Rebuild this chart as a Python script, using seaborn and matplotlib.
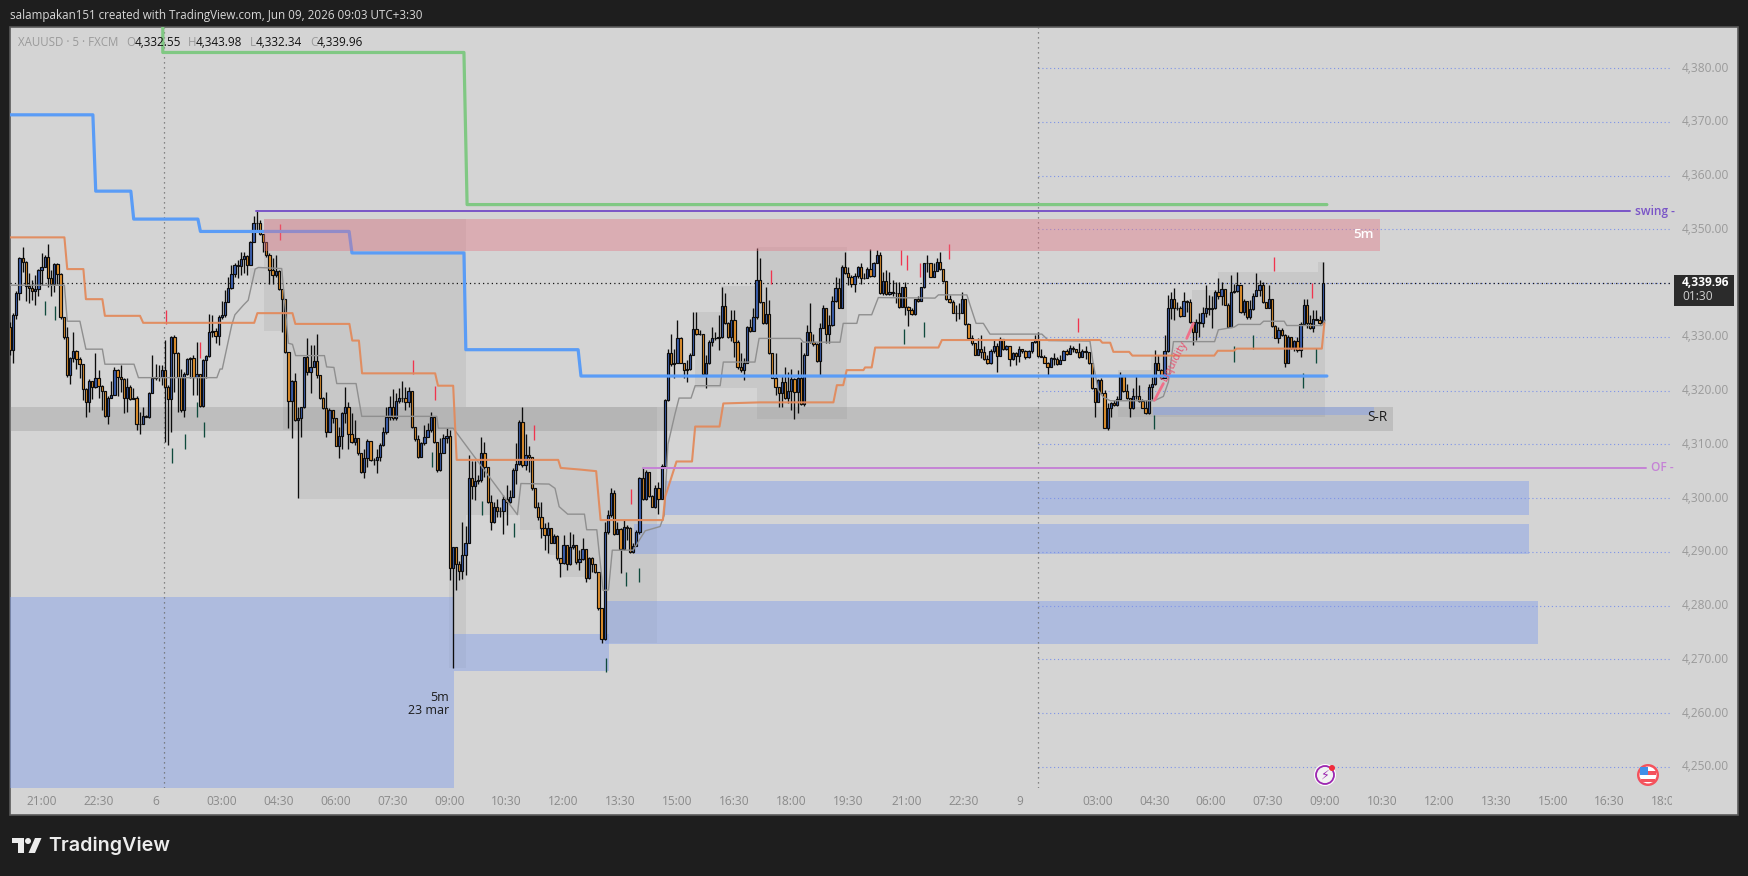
import matplotlib
matplotlib.use("Agg")
import matplotlib.pyplot as plt
from matplotlib.patches import Rectangle, Circle, Polygon
from matplotlib.transforms import Bbox, IdentityTransform, TransformedBbox, ScaledTranslation
import numpy as np
import seaborn as sns

first_open = 4331.9
closes = [
4327.5,4334.1,4338.1,4344.6,4344.0,4339.5,4339.1,4338.5,4338.9,4342.4,
4343.0,4344.9,4341.0,4339.9,4343.5,4341.6,4333.7,4329.9,4322.9,4326.1,
4327.4,4325.9,4324.9,4320.2,4317.8,4321.8,4320.6,4322.4,4320.8,4319.9,
4315.3,4318.7,4319.2,4323.8,4322.6,4322.1,4318.7,4320.6,4318.4,4318.7,
4313.7,4313.7,4315.3,4315.1,4319.5,4322.3,4322.6,4322.6,4323.8,4320.7,
4318.4,4330.0,4326.9,4322.5,4316.4,4323.0,4325.9,4326.1,4322.5,4323.0,
4317.1,4325.6,4326.4,4330.8,4331.0,4330.2,4333.7,4334.1,4336.4,4339.0,
4341.6,4343.4,4343.1,4344.4,4345.1,4343.4,4347.7,4351.1,4351.2,4349.1,
4347.6,4345.2,4342.5,4341.5,4342.2,4338.9,4337.0,4327.1,4318.1,4321.8,
4314.6,4314.8,4316.9,4326.2,4323.4,4324.4,4325.5,4322.8,4318.7,4316.7,
4312.2,4316.3,4314.8,4309.7,4311.6,4315.8,4317.0,4311.9,4310.5,4311.1,
4308.3,4304.8,4307.4,4310.6,4307.0,4307.0,4307.7,4309.9,4312.2,4315.0,
4316.9,4314.8,4318.1,4318.6,4318.6,4317.9,4319.9,4313.3,4310.9,4307.6,
4310.2,4311.4,4312.7,4315.1,4310.4,4305.2,4308.3,4311.1,4311.6,4286.9,
4290.8,4287.8,4286.5,4289.4,4291.7,4303.7,4302.3,4303.2,4303.3,4308.3,
4305.7,4299.2,4295.5,4298.3,4297.5,4297.5,4299.9,4299.2,4300.2,4305.2,
4306.3,4314.1,4306.1,4308.1,4307.7,4301.8,4298.3,4296.5,4294.4,4293.1,
4294.4,4291.7,4292.9,4288.8,4288.0,4291.3,4287.7,4290.9,4291.3,4288.1,
4288.6,4290.6,4285.2,4288.8,4287.8,4286.3,4279.5,4273.7,4293.6,4296.8,
4300.9,4293.4,4294.2,4290.6,4294.7,4294.4,4290.0,4291.1,4293.6,4303.7,
4299.8,4304.8,4300.4,4298.4,4301.8,4299.9,4306.0,4318.2,4326.9,4324.9,
4325.2,4329.8,4325.2,4323.9,4324.1,4326.7,4331.4,4330.5,4330.6,4323.0,
4325.1,4329.1,4329.7,4329.7,4329.9,4335.7,4332.5,4330.0,4333.1,4329.1,
4324.3,4323.8,4325.2,4331.8,4331.1,4333.6,4340.6,4336.4,4332.5,4334.2,
4326.9,4322.4,4320.6,4319.5,4321.5,4318.7,4320.0,4322.1,4319.8,4322.4,
4317.5,4326.6,4330.8,4329.1,4328.6,4325.5,4331.6,4335.3,4330.5,4332.2,
4336.7,4339.1,4335.4,4342.9,4341.8,4341.2,4339.8,4341.4,4343.0,4341.0,
4341.0,4342.6,4341.3,4343.8,4345.2,4338.1,4340.4,4338.0,4338.4,4338.2,
4338.2,4335.6,4339.2,4335.6,4334.9,4334.2,4337.0,4336.7,4339.2,4343.7,
4343.7,4341.2,4342.3,4344.0,4342.7,4340.4,4337.0,4336.5,4334.5,4334.5,
4334.5,4337.0,4332.3,4329.7,4328.8,4326.7,4327.7,4327.2,4325.8,4325.1,
4327.3,4328.2,4326.5,4329.6,4327.7,4328.2,4325.8,4326.9,4326.4,4327.7,
4327.3,4326.2,4327.3,4329.0,4329.4,4326.4,4326.3,4325.2,4324.4,4326.0,
4325.8,4324.9,4325.7,4327.4,4326.8,4328.0,4327.7,4327.2,4326.3,4327.3,
4327.2,4325.1,4320.4,4317.9,4322.0,4319.5,4313.1,4316.7,4317.7,4317.3,
4318.4,4322.7,4320.0,4318.7,4316.7,4318.9,4318.9,4318.1,4316.8,4315.8,
4320.7,4321.2,4325.2,4323.9,4322.3,4327.3,4335.3,4337.1,4335.3,4335.3,
4333.9,4336.7,4336.5,4332.7,4330.9,4332.8,4332.5,4334.4,4335.3,4335.1,
4335.3,4338.4,4337.5,4338.9,4336.0,4331.9,4338.3,4338.6,4339.6,4334.7,
4336.7,4333.6,4335.1,4337.6,4338.7,4339.6,4336.4,4335.4,4337.1,4332.0,
4329.8,4331.3,4330.3,4325.2,4329.9,4328.0,4329.2,4327.5,4332.4,4336.0,
4332.5,4331.6,4333.4,4333.2,4332.55,4339.96]
highs = [
4332.8,4334.4,4338.5,4344.9,4346.8,4344.1,4341.8,4340.6,4341.5,4342.7,
4345.5,4345.2,4347.2,4342.4,4343.7,4343.7,4341.8,4333.7,4331.8,4326.3,
4330.9,4327.5,4326.3,4325.0,4320.4,4322.1,4321.8,4326.9,4323.8,4321.0,
4320.0,4318.9,4321.7,4324.4,4324.1,4324.8,4322.3,4322.3,4321.0,4320.4,
4318.9,4316.1,4317.0,4315.4,4319.8,4326.6,4325.0,4324.8,4324.8,4329.4,
4321.0,4330.2,4330.3,4327.2,4324.1,4323.5,4326.0,4326.3,4326.6,4329.1,
4323.0,4325.8,4326.6,4334.2,4334.1,4331.6,4334.1,4336.7,4338.7,4341.2,
4343.4,4343.7,4344.3,4345.8,4345.8,4345.2,4347.9,4352.4,4353.6,4351.7,
4349.1,4347.6,4345.5,4344.6,4345.2,4342.4,4338.9,4337.0,4327.1,4321.9,
4323.2,4317.0,4317.0,4326.3,4329.7,4328.5,4328.5,4330.6,4322.8,4318.8,
4319.8,4316.7,4316.4,4314.8,4313.3,4316.1,4320.7,4317.9,4315.8,4314.5,
4311.1,4308.3,4309.2,4310.9,4310.6,4307.4,4309.2,4310.2,4313.3,4317.0,
4318.9,4320.2,4319.5,4320.4,4321.8,4320.7,4320.7,4319.9,4313.3,4311.7,
4310.5,4313.6,4313.9,4316.0,4315.1,4310.4,4311.2,4312.0,4313.0,4312.7,
4290.9,4290.9,4288.2,4295.6,4294.8,4308.0,4306.8,4306.8,4304.3,4311.4,
4310.5,4305.7,4300.6,4299.3,4299.9,4298.4,4300.6,4302.4,4301.5,4305.5,
4310.2,4314.5,4316.9,4312.0,4309.6,4307.7,4301.8,4299.3,4299.3,4295.3,
4295.6,4294.4,4293.4,4293.1,4288.8,4293.1,4291.3,4293.7,4293.4,4291.3,
4290.3,4292.5,4290.6,4289.1,4289.1,4287.8,4286.3,4279.5,4295.6,4297.8,
4301.8,4301.5,4295.6,4294.4,4295.9,4295.0,4294.7,4291.6,4294.0,4304.0,
4305.8,4305.2,4304.9,4300.6,4302.4,4303.0,4306.4,4318.5,4327.8,4330.6,
4327.8,4333.1,4330.0,4325.2,4325.7,4326.9,4334.7,4334.7,4331.3,4330.6,
4326.6,4329.4,4331.8,4330.9,4334.0,4339.3,4338.1,4332.8,4334.9,4335.0,
4329.4,4326.9,4326.0,4332.0,4333.4,4335.3,4346.6,4344.6,4336.4,4339.3,
4336.8,4326.9,4326.9,4320.6,4322.9,4324.4,4323.5,4324.1,4322.4,4323.8,
4329.1,4326.9,4332.2,4336.2,4330.6,4328.8,4332.5,4335.9,4335.3,4334.0,
4337.5,4341.2,4340.9,4343.3,4345.8,4343.0,4341.5,4341.8,4343.2,4343.7,
4341.8,4343.0,4346.4,4344.0,4346.1,4345.8,4342.1,4342.4,4342.1,4340.6,
4340.2,4340.2,4339.3,4340.2,4335.7,4335.3,4337.1,4337.5,4339.3,4343.8,
4345.2,4343.8,4343.7,4344.6,4345.8,4342.7,4340.4,4337.8,4336.8,4335.9,
4336.2,4338.4,4337.1,4332.5,4330.3,4328.8,4329.7,4330.3,4328.2,4326.6,
4327.8,4329.4,4328.8,4330.0,4329.6,4328.5,4328.2,4327.2,4327.2,4328.2,
4327.8,4327.5,4327.5,4329.1,4330.3,4330.8,4327.8,4326.6,4325.4,4326.3,
4326.9,4326.3,4326.6,4327.5,4327.8,4328.5,4328.2,4327.8,4328.8,4327.7,
4328.3,4327.2,4325.1,4320.4,4322.1,4322.3,4320.1,4317.6,4317.9,4318.2,
4318.9,4323.5,4322.9,4321.3,4318.7,4320.4,4322.9,4321.0,4318.4,4318.2,
4321.2,4322.6,4327.5,4326.6,4324.1,4330.3,4337.8,4338.4,4339.0,4336.5,
4335.7,4338.4,4336.8,4337.1,4332.7,4333.4,4334.4,4335.6,4339.6,4337.8,
4337.5,4338.7,4340.9,4340.2,4338.9,4336.2,4341.5,4339.9,4342.1,4339.6,
4337.1,4336.7,4336.8,4338.1,4341.8,4340.6,4340.2,4336.5,4339.6,4337.1,
4332.2,4331.8,4331.6,4330.5,4330.3,4330.0,4329.4,4330.0,4332.8,4337.0,
4337.1,4334.0,4335.0,4335.0,4333.9,4343.98]
lows = [
4326.6,4325.1,4333.4,4336.8,4342.1,4336.7,4336.2,4336.8,4335.9,4337.5,
4339.6,4343.0,4339.3,4337.6,4338.4,4339.9,4333.4,4329.6,4322.6,4321.3,
4325.4,4324.0,4322.3,4318.2,4315.1,4316.1,4318.4,4320.5,4318.6,4316.4,
4315.1,4313.8,4318.6,4319.2,4318.9,4319.8,4315.8,4316.1,4318.2,4318.4,
4312.7,4311.9,4313.7,4315.0,4314.8,4319.5,4322.0,4321.8,4321.0,4310.5,
4309.9,4312.3,4319.8,4316.1,4316.1,4315.0,4322.9,4322.3,4319.2,4319.2,
4316.9,4317.0,4322.3,4326.3,4330.0,4328.8,4328.5,4333.4,4333.7,4336.4,
4338.9,4341.2,4340.9,4341.5,4341.8,4341.5,4343.4,4347.7,4349.5,4348.9,
4345.8,4344.9,4339.9,4339.8,4341.2,4338.7,4330.9,4327.0,4313.0,4311.2,
4314.4,4300.0,4311.4,4316.7,4322.9,4319.5,4324.4,4322.3,4318.5,4316.5,
4311.4,4312.3,4313.9,4309.6,4307.4,4309.2,4313.9,4309.2,4310.2,4309.9,
4308.0,4304.6,4303.7,4305.8,4306.8,4306.2,4304.6,4306.8,4309.6,4312.0,
4314.5,4314.5,4314.6,4317.7,4317.9,4316.4,4317.0,4313.0,4310.7,4307.4,
4307.6,4309.9,4311.4,4312.3,4310.2,4304.9,4305.0,4309.2,4310.2,4284.7,
4268.3,4282.9,4284.7,4285.0,4285.7,4291.6,4299.9,4299.6,4302.7,4303.0,
4304.0,4299.0,4294.0,4295.3,4296.5,4296.5,4293.4,4295.0,4299.0,4300.2,
4302.7,4306.1,4305.8,4305.2,4304.9,4301.5,4298.1,4295.9,4292.5,4290.3,
4289.7,4291.6,4291.6,4288.5,4285.4,4287.8,4286.6,4287.5,4290.6,4287.8,
4286.6,4288.5,4284.4,4285.0,4286.3,4286.0,4279.2,4273.1,4273.6,4293.4,
4296.5,4293.1,4293.3,4286.0,4290.3,4292.2,4289.7,4289.7,4291.1,4293.4,
4299.6,4299.6,4300.2,4298.3,4298.1,4297.1,4299.8,4306.0,4318.1,4324.6,
4322.3,4325.2,4325.1,4322.4,4321.5,4323.9,4326.6,4330.3,4330.3,4322.9,
4320.4,4324.9,4328.2,4329.4,4327.5,4329.7,4332.4,4329.7,4329.3,4326.2,
4324.1,4323.5,4322.0,4325.2,4330.9,4331.1,4333.4,4336.2,4332.4,4332.4,
4326.8,4322.3,4319.2,4317.0,4317.0,4318.5,4317.6,4316.4,4314.7,4315.8,
4317.3,4317.2,4326.6,4328.9,4328.3,4325.4,4322.7,4331.6,4328.9,4328.8,
4332.0,4336.5,4335.3,4335.4,4341.6,4339.6,4339.3,4338.4,4340.9,4339.9,
4340.8,4340.9,4341.1,4341.2,4343.7,4338.0,4337.8,4337.8,4337.8,4337.5,
4336.2,4335.3,4335.5,4334.0,4332.0,4334.0,4334.0,4336.5,4336.7,4339.0,
4342.1,4341.1,4341.2,4342.3,4342.4,4340.2,4336.8,4336.3,4334.4,4333.0,
4333.4,4334.4,4332.2,4329.6,4328.5,4326.6,4326.6,4326.0,4325.7,4324.9,
4324.9,4326.9,4323.5,4326.4,4327.5,4327.5,4324.6,4325.6,4324.7,4325.4,
4327.0,4325.8,4326.0,4327.0,4328.8,4326.2,4326.2,4325.1,4322.8,4324.4,
4324.7,4324.8,4324.9,4325.7,4326.6,4326.9,4327.2,4327.0,4326.0,4326.2,
4325.8,4324.9,4320.3,4315.1,4317.9,4319.3,4313.0,4312.7,4315.1,4317.1,
4317.1,4318.2,4319.8,4318.5,4315.1,4316.5,4318.5,4317.9,4316.7,4315.6,
4315.6,4318.4,4321.0,4323.8,4322.1,4322.3,4327.2,4333.4,4333.1,4335.0,
4333.7,4333.9,4334.7,4332.5,4328.5,4329.4,4330.0,4331.9,4333.7,4334.0,
4331.6,4335.1,4337.1,4335.9,4335.9,4331.8,4331.8,4338.2,4338.4,4334.5,
4334.0,4333.4,4333.4,4335.0,4337.5,4337.5,4336.2,4335.3,4335.3,4331.9,
4329.7,4328.8,4330.1,4324.4,4325.2,4327.8,4327.3,4327.2,4326.2,4332.2,
4331.6,4331.4,4330.9,4333.1,4332.3,4332.34]

tick_idx = [10.1,28,46,67,85,103,121,139,157,175,193,211,229,247,265,283.6,301.6,319.3,343.7,361.7,379.7,397.7,415.7,433.7,451.7,469.7,487.7,505.7,523.7]
tick_labels = ["21:00","22:30","6","03:00","04:30","06:00","07:30","09:00","10:30","12:00","13:30","15:00","16:30","18:00","19:30","21:00","22:30","9","03:00","04:30","06:00","07:30","09:00","10:30","12:00","13:30","15:00","16:30","18:00"]
price_ticks = [4250,4260,4270,4280,4290,4300,4310,4320,4330,4340,4350,4360,4370,4380]

green_x = [48.3,48.3,143.5,144.5,416.3]
green_y = [4387.6,4382.9,4382.9,4354.6,4354.6]
blue_x = [0,26.2,27.1,38.2,39.1,59.4,60.2,107.2,108.1,143.5,144.1,179.6,180.5,416.3]
blue_y = [4371.3,4371.3,4357.1,4357.1,4351.9,4351.9,4349.6,4349.6,4345.6,4345.6,4327.6,4327.6,4322.7,4322.7]
orange_x = [0,17.2,18.1,23.2,24.0,29.2,30.0,41.1,42.1,77.2,78.2,89.3,90.2,107.3,108.2,110.3,111.3,134.4,135.3,140.1,141.2,173.3,174.1,180.2,185.3,186.7,206.4,207.1,210.7,215.6,216.6,224.3,225.5,237.1,260.3,261.4,263.4,264.5,269.8,270.3,272.4,273.5,293.5,294.6,344.6,345.3,347.8,348.8,353.8,354.8,380.7,381.8,386.8,387.8,414.7,415.5]
orange_y = [4348.5,4348.5,4342.6,4342.6,4337.0,4337.0,4333.9,4333.9,4332.6,4332.6,4334.4,4334.4,4332.4,4332.4,4329.3,4329.3,4323.2,4323.2,4320.9,4320.9,4307.1,4307.1,4305.6,4305.3,4305.0,4295.9,4295.9,4300.2,4306.8,4306.8,4313.3,4313.3,4317.6,4317.8,4317.8,4321.0,4321.0,4323.8,4323.8,4324.3,4324.3,4328.0,4328.0,4329.4,4329.4,4328.9,4328.9,4327.2,4327.2,4326.5,4326.5,4327.4,4327.4,4327.8,4327.8,4332.5]
gray_x = [0,17.2,18.1,22.1,24.0,29.2,30.0,39.2,40.6,65.4,66.4,67.1,70.1,71.1,73.8,75.3,77.5,78.5,85.9,88.0,89.3,90.3,99.4,100.1,102.4,103.3,109.4,111.2,134.9,135.4,140.1,160.4,161.5,170.4,172.3,173.6,176.3,181.6,182.3,185.5,187.5,189.2,190.4,197.0,199.7,200.8,205.5,206.8,208.0,210.2,211.5,215.3,216.6,224.5,225.5,235.5,236.8,249.8,250.8,262.4,263.4,267.7,268.4,272.4,274.5,292.4,293.5,302.5,303.5,305.4,307.7,309.8,326.2,328.3,341.4,342.4,344.0,345.6,347.8,361.7,364.6,366.2,367.8,380.8,382.0,387.0,388.3,395.2,396.3,402.8,403.6,414.7,415.8]
gray_y = [4339.6,4339.6,4332.9,4332.9,4327.7,4327.7,4324.9,4324.9,4322.4,4322.4,4324.0,4324.0,4332.2,4334.1,4335.9,4336.8,4342.6,4342.9,4342.7,4328.8,4328.6,4326.5,4326.5,4324.4,4324.3,4321.3,4321.3,4315.2,4315.2,4313.0,4313.0,4296.9,4302.7,4302.6,4301.8,4298.4,4297.0,4297.0,4294.1,4294.1,4282.8,4282.9,4290.3,4290.3,4292.9,4293.9,4294.7,4296.8,4310.0,4315.6,4318.6,4318.6,4320.9,4320.9,4325.3,4325.3,4329.7,4329.7,4329.0,4329.0,4332.5,4332.5,4334.1,4334.1,4337.3,4337.2,4337.8,4337.8,4335.9,4332.5,4332.5,4330.5,4330.5,4329.3,4329.2,4325.1,4320.1,4318.8,4318.1,4318.1,4318.9,4321.6,4329.1,4329.1,4331.3,4331.8,4332.3,4332.3,4332.9,4332.9,4332.1,4332.1,4333.1]

# zones: bar start, bar end, price low, price high
shade_x0 = [75.9,80.3,86.3,91.4,138.8,144.2,161.2,170.1,173.9,183.4,188.4,216.6,224.8,236.2,350.3,360.7,365.8,373.7,381.9,413.5]
shade_x1 = [80.3,86.3,91.4,144.2,144.2,161.2,170.1,173.9,183.4,188.4,204.6,224.8,236.2,264.6,360.7,365.8,373.7,381.9,413.5,415.8]
shade_lo = [4340.0,4331.0,4312.7,4299.8,4268.4,4296.8,4294.1,4289.4,4285.3,4282.9,4273.0,4320.5,4320.5,4314.7,4315.1,4315.1,4315.1,4315.1,4315.1,4315.1]
shade_hi = [4342.8,4351.9,4351.9,4351.9,4299.8,4316.9,4316.9,4316.9,4316.9,4316.9,4316.9,4334.6,4339.5,4346.7,4323.8,4326.6,4335.4,4338.7,4342.1,4343.9]
demand_x0 = [0,140.4,188.1,197.3,207.1,361.4]
demand_x1 = [140.4,189.5,483.1,480.2,480.2,431.2]
demand_lo = [4246.05,4267.9,4272.9,4289.6,4296.8,4315.4]
demand_hi = [4281.5,4274.7,4280.8,4295.2,4303.2,4316.9]
supply_zone = [80.3,433.1,4346.0,4351.9]
sr_zone = [0,437.2,4312.5,4317.0]
swing_level = [77.9,512.2,4353.4]
of_level = [200.1,517.2,4305.6]
last_close = 4339.96

red_x = [49.4,60.2,85.5,127.5,134.5,165.5,196.4,240.7,281.8,283.7,287.8,296.7,337.7,399.7,411.7]
red_hi = [4335.0,4329.0,4351.0,4325.7,4320.9,4313.5,4301.6,4342.5,4346.1,4345.3,4343.8,4347.2,4333.5,4344.9,4340.1]
red_lo = [4332.3,4326.1,4348.1,4323.0,4318.2,4310.8,4298.9,4339.8,4343.3,4342.5,4341.1,4344.4,4330.8,4342.2,4337.3]
grn_x = [11.2,14.3,51.3,55.4,61.4,59.2,133.5,149.3,159.4,188.5,194.7,198.7,282.7,288.8,361.8,386.8,392.8,408.9,413.0]
grn_hi = [4336.7,4335.8,4309.4,4312.0,4314.1,4317.9,4308.6,4299.5,4295.4,4270.3,4286.3,4287.0,4331.4,4332.8,4315.4,4328.2,4330.4,4323.2,4328.0]
grn_lo = [4334.1,4333.1,4306.6,4309.2,4311.3,4315.1,4305.8,4296.8,4292.7,4267.6,4283.6,4284.3,4328.6,4330.0,4312.8,4325.4,4327.7,4320.4,4325.2]
liq_x = [361.8,364.6,372.0,374.1]
liq_y = [4318.2,4321.3,4329.7,4332.5]

W, H = 1749, 876
sns.set_theme(style="white", rc={"axes.grid": False})
plt.rcParams['font.family'] = ['Open Sans', 'DejaVu Sans']

BG = "#1e1e1e"
PANEL = "#d4d4d4"
fig = plt.figure(figsize=(W/100, H/100), dpi=100, facecolor=BG)
def fx(x): return x / W
def fy(y): return 1 - y / H

fig.add_artist(Rectangle((fx(10), fy(815)), (1738-10)/W, (815-27)/H, transform=fig.transFigure,
                         facecolor=PANEL, edgecolor="#5a5a5a", linewidth=1.2, zorder=-5))
ax = fig.add_axes([fx(10), fy(788), (1672-10)/W, (788-27)/H])
ax.patch.set_alpha(0)
for s in ax.spines.values():
    s.set_visible(False)
ax.set_xlim(0, 525.4)
ax.set_ylim(4246.05, 4387.64)

# shaded boxes and zones
for a, b, lo, hi in zip(shade_x0, shade_x1, shade_lo, shade_hi):
    ax.add_patch(Rectangle((a, lo), b-a, hi-lo, facecolor="#000000", alpha=0.055, edgecolor="none", zorder=1))
ax.add_patch(Rectangle((sr_zone[0], sr_zone[2]), sr_zone[1]-sr_zone[0], sr_zone[3]-sr_zone[2],
                       facecolor="#808080", alpha=0.25, edgecolor="none", zorder=1.2))
for a, b, lo, hi in zip(demand_x0, demand_x1, demand_lo, demand_hi):
    ax.add_patch(Rectangle((a, lo), b-a, hi-lo, facecolor="#819eeb", alpha=0.45, edgecolor="none", zorder=1.4))

# reference dotted lines
ax.hlines(price_ticks, 324.9, 525.4, colors="#7d93e8", linestyles=(0, (1, 2.5)), linewidth=0.8, zorder=1.6)
ax.axvline(48.8, color="#6a6a6a", linestyle=(0, (1, 3)), linewidth=0.9, zorder=1.6)
ax.axvline(324.9, color="#6a6a6a", linestyle=(0, (1, 3)), linewidth=0.9, zorder=1.6)
ax.axhline(last_close, color="#151515", linestyle=(0, (1, 2.5)), linewidth=0.9, zorder=1.7)

# candles
c = np.array(closes)
o = np.r_[first_open, c[:-1]]
h = np.array(highs)
l = np.array(lows)
x = np.arange(len(c))
up = c >= o
ax.vlines(x, l, h, color="#0c0c0c", linewidth=0.95, zorder=3)
ax.bar(x[up], (c-o)[up], bottom=o[up], width=0.72, color="#3d62b4", edgecolor="#0c0c0c", linewidth=0.85, zorder=3.1)
ax.bar(x[~up], (o-c)[~up], bottom=c[~up], width=0.72, color="#e8952f", edgecolor="#0c0c0c", linewidth=0.85, zorder=3.1)
ax.vlines(red_x, red_lo, red_hi, color="#f0344e", linewidth=0.95, zorder=3.3)
ax.vlines(grn_x, grn_lo, grn_hi, color="#0f4a3c", linewidth=0.95, zorder=3.3)

# indicator lines
sns.lineplot(x=gray_x, y=gray_y, estimator=None, sort=False, color="#8f8f8f", linewidth=1.0, ax=ax, zorder=4, legend=False)
sns.lineplot(x=orange_x, y=orange_y, estimator=None, sort=False, color="#e28a5c", linewidth=1.5, alpha=0.95, ax=ax, zorder=4.1, legend=False)
sns.lineplot(x=blue_x, y=blue_y, estimator=None, sort=False, color="#5a9cf6", linewidth=2.3, ax=ax, zorder=4.2, legend=False)
sns.lineplot(x=green_x, y=green_y, estimator=None, sort=False, color="#80c883", linewidth=2.3, ax=ax, zorder=4.2, legend=False)
ax.add_patch(Rectangle((supply_zone[0], supply_zone[2]), supply_zone[1]-supply_zone[0], supply_zone[3]-supply_zone[2],
                       facecolor="#e57383", alpha=0.4, edgecolor="none", zorder=4.3))
ax.plot(swing_level[:2], [swing_level[2]]*2, color="#7a55c7", linewidth=1.4, zorder=4.4)
ax.plot(of_level[:2], [of_level[2]]*2, color="#c583d6", linewidth=1.4, zorder=4.4)
ax.plot(liq_x[:2], liq_y[:2], color="#f0708a", linewidth=2.0, zorder=4.5)
ax.plot(liq_x[2:], liq_y[2:], color="#f0708a", linewidth=2.0, zorder=4.5)
ax.text(368.2, 4325.5, "Liquidity", color="#e8506e", fontsize=8, rotation=62, rotation_mode="anchor",
        ha="center", va="center", zorder=5)

# annotations
ax.text(428, 4349.1, "5m", color="#ffffff", fontsize=9.6, fontweight="semibold", ha="center", va="center", zorder=5)
ax.text(432.2, 4314.9, "S-R", color="#1c1c1c", fontsize=9.8, ha="center", va="center", zorder=5)
ax.text(138.8, 4261.7, "5m\n23 mar", color="#1c1c1c", fontsize=9, ha="right", va="center", ma="right", linespacing=1.05, zorder=5)
ax.text(513.7, swing_level[2], "swing -", color="#7a55c7", fontsize=8.6, fontweight="semibold", ha="left", va="center", zorder=5)
ax.text(518.7, of_level[2], "OF -", color="#c583d6", fontsize=8.6, fontweight="semibold", ha="left", va="center", zorder=5)

# axes ticks
ax.set_xticks(tick_idx)
ax.set_xticklabels(tick_labels)
ax.yaxis.tick_right()
ax.set_yticks(price_ticks)
ax.set_yticklabels([f"{p:,.2f}" for p in price_ticks])
ax.tick_params(axis="x", length=0, pad=5, labelsize=8.6, labelcolor="#8a8a8a")
ax.tick_params(axis="y", length=0, pad=7.2, labelsize=8.6, labelcolor="#9a9a9a")
clip = TransformedBbox(Bbox([[0, 0], [1672, 876]]), IdentityTransform())
for lab in ax.get_xticklabels():
    lab.set_clip_box(clip)
    lab.set_clip_on(True)
up_shift = ScaledTranslation(0, 1.5/100, fig.dpi_scale_trans)
for lab in ax.get_yticklabels():
    lab.set_transform(lab.get_transform() + up_shift)

# header
fig.text(fx(10), fy(15), "salampakan151 created with TradingView.com, Jun 09, 2026 09:03 UTC+3:30",
         color="#d8d8d8", fontsize=8.4, ha="left", va="center")
ly = fy(42)
for px_, s, col, fs in [(18, "XAUUSD · 5 · FXCM", "#9a9a9a", 8.3), (126, "O", "#9a9a9a", 8.3), (135, "4,332.55", "#111111", 8.5),
                        (187.5, "H", "#9a9a9a", 8.3), (196, "4,343.98", "#111111", 8.5), (249.5, "L", "#9a9a9a", 8.3),
                        (255.6, "4,332.34", "#111111", 8.5), (310, "C", "#9a9a9a", 8.3), (316.5, "4,339.96", "#111111", 8.5)]:
    fig.text(fx(px_), ly, s, color=col, fontsize=fs, ha="left", va="center", zorder=6)

# last price tag
fig.add_artist(Rectangle((fx(1674), fy(306)), 60/W, 31/H, transform=fig.transFigure, facecolor="#2b2b2b", edgecolor="none", zorder=6))
fig.text(fx(1682), fy(282.5), "4,339.96", color="#ffffff", fontsize=8.6, fontweight="bold", ha="left", va="center", zorder=7)
fig.text(fx(1682), fy(297), "01:30", color="#d0d0d0", fontsize=8.6, ha="left", va="center", zorder=7)

# event icons
def disc(xc, yc, r, fc, ec="none", lw=0, z=7):
    fig.add_artist(Circle((xc, H-yc), r, transform=IdentityTransform(), facecolor=fc, edgecolor=ec, linewidth=lw, zorder=z))
disc(1325, 775, 11, "#ffffff")
disc(1325, 775, 9, "#f2f2f2", "#9c27b0", 1.3, 8)
fig.text(fx(1325), fy(775), "\u26a1", color="#9c27b0", fontsize=9, ha="center", va="center", zorder=9, family=["DejaVu Sans"])
disc(1332, 768, 3, "#f02c3c", z=9)
disc(1648, 775, 11, "#f4525c")
disc(1648, 775, 8.5, "#ffffff", z=8)
fig.add_artist(Rectangle((1640, H-775), 8, 8, transform=IdentityTransform(), facecolor="#3f8fe8", edgecolor="none", zorder=9))
fig.add_artist(Rectangle((1648, H-775), 8, 4, transform=IdentityTransform(), facecolor="#f4525c", edgecolor="none", zorder=9))
fig.add_artist(Rectangle((1641, H-782), 14, 3, transform=IdentityTransform(), facecolor="#f4525c", edgecolor="none", zorder=9))

# brand mark
def box(a, b, c_, d):
    fig.add_artist(Rectangle((fx(a), fy(d)), (c_-a)/W, (d-b)/H, transform=fig.transFigure, facecolor="#ececec", edgecolor="none", zorder=6))
box(12, 838, 24, 843)
box(18, 838, 24, 853)
disc(28, 841, 3, "#ececec", z=6)
fig.add_artist(Polygon([(fx(35), fy(838)), (fx(41.5), fy(838)), (fx(35), fy(853)), (fx(28.5), fy(853))],
                       transform=fig.transFigure, facecolor="#ececec", edgecolor="none", zorder=6))
fig.text(fx(48), fy(846), "TradingView", color="#ececec", fontsize=14.2, fontweight="semibold", ha="left", va="center",
         family=["Inter", "DejaVu Sans"], zorder=6)

fig.savefig("out.png", dpi=100, facecolor=BG)
